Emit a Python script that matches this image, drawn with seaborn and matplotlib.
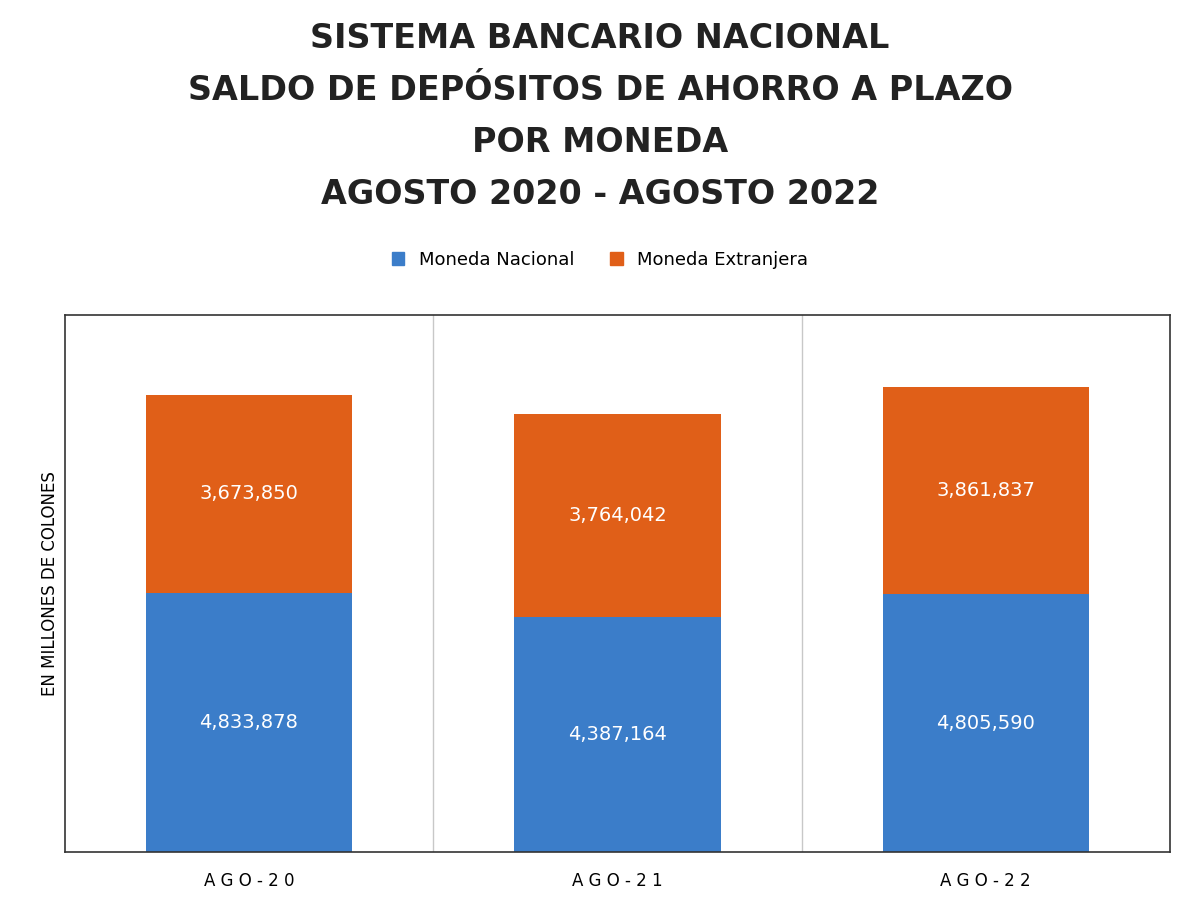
import matplotlib
matplotlib.use("Agg")
import matplotlib.pyplot as plt
import seaborn as sns
import pandas as pd

periods = ["AGO-20", "AGO-21", "AGO-22"]
nacional = [4833878, 4387164, 4805590]
extranjera = [3673850, 3764042, 3861837]

blue = "#3b7dc9"
orange = "#e05f18"

df = pd.DataFrame({"periodo": periods, "nacional": nacional, "extranjera": extranjera})
df["total"] = df["nacional"] + df["extranjera"]

fig = plt.figure(figsize=(12, 9), dpi=100)
ax = fig.add_axes([0.054, 0.053, 0.921, 0.597])

sns.barplot(data=df, x="periodo", y="total", color=orange, width=0.56, ax=ax, saturation=1)
sns.barplot(data=df, x="periodo", y="nacional", color=blue, width=0.56, ax=ax, saturation=1)

for i, row in df.iterrows():
    ax.text(i, row["nacional"] / 2, f"{row['nacional']:,}", ha="center", va="center",
            color="white", fontsize=14)
    ax.text(i, row["nacional"] + row["extranjera"] / 2, f"{row['extranjera']:,}",
            ha="center", va="center", color="white", fontsize=14)

ax.set_ylim(0, 10000000)
ax.set_xlim(-0.5, 2.5)
for x in [0.5, 1.5]:
    ax.axvline(x, color="#c8c8c8", lw=1)
ax.set_yticks([])
ax.set_xlabel("")
ax.set_ylabel("EN MILLONES DE COLONES", fontsize=12)
ax.tick_params(axis="x", length=0, pad=14, labelsize=12)
for lbl in ax.get_xticklabels():
    lbl.set_text(" ".join(lbl.get_text()))
ax.set_xticks(range(3), [" ".join(p) for p in periods])
for s in ax.spines.values():
    s.set_color("#333333")
    s.set_linewidth(1.2)

titles = ["SISTEMA BANCARIO NACIONAL", "SALDO DE DEPÓSITOS DE AHORRO A PLAZO",
          "POR MONEDA", "AGOSTO 2020 - AGOSTO 2022"]
for k, t in enumerate(titles):
    fig.text(0.5, 1 - (38 + 52 * k) / 900, t, ha="center", va="center",
             fontsize=24, fontweight="bold", color="#222222")

handles = [plt.Rectangle((0, 0), 1, 1, color=blue), plt.Rectangle((0, 0), 1, 1, color=orange)]
fig.legend(handles, ["Moneda Nacional", "Moneda Extranjera"], loc="center",
           bbox_to_anchor=(0.5, 1 - 260 / 900), ncol=2, frameon=False, fontsize=13,
           handlelength=0.7, handleheight=0.7, columnspacing=2)

fig.savefig("out.png", dpi=100)
